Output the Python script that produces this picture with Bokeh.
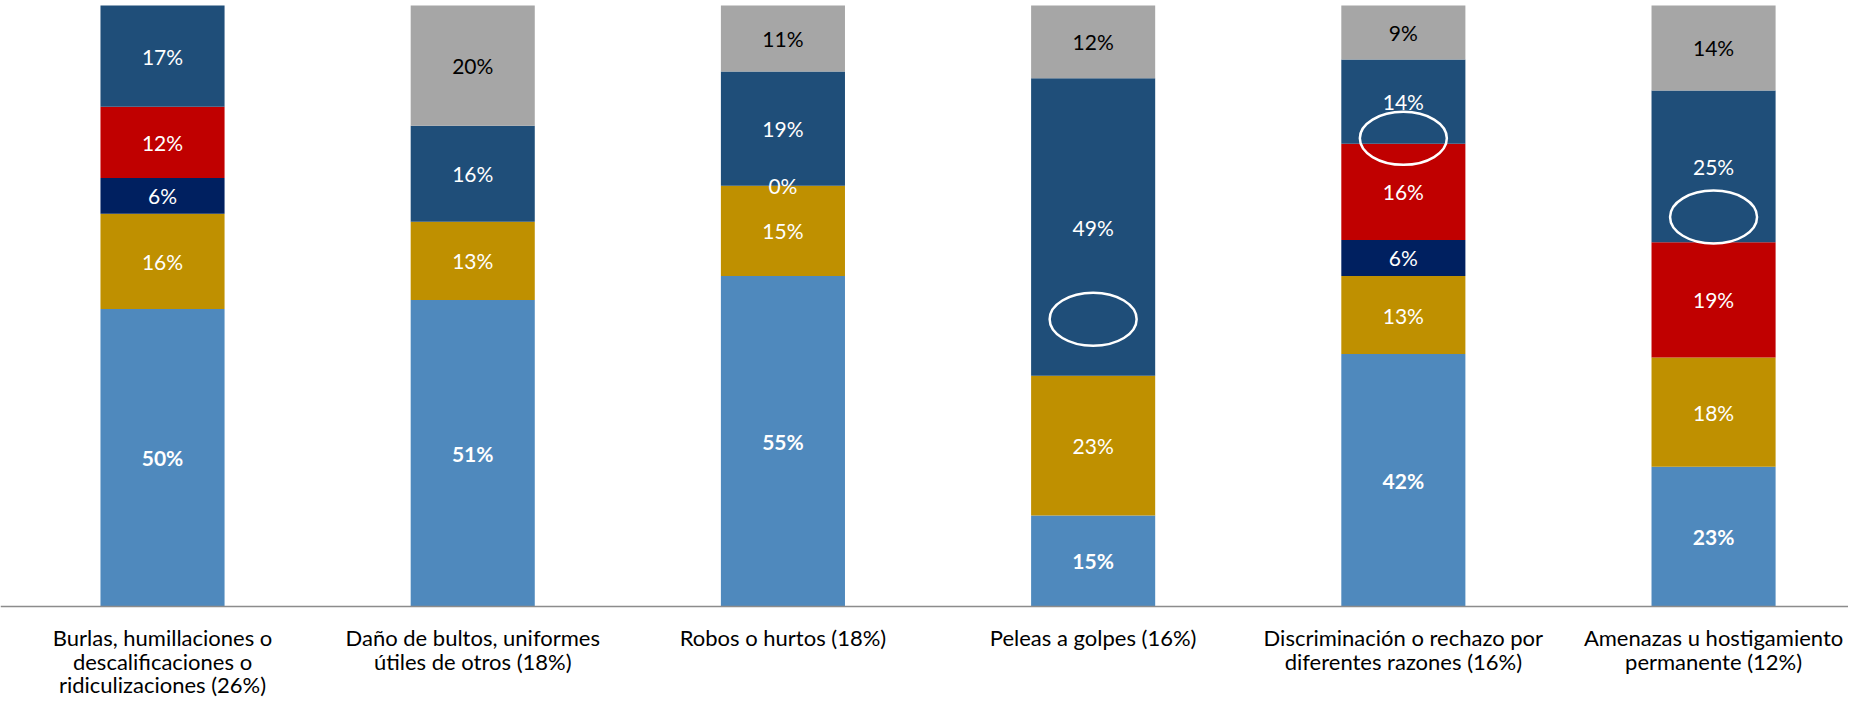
from bokeh.plotting import figure
from bokeh.models import ColumnDataSource, Range1d, Span
from bokeh.core.properties import value
from bokeh.embed import file_html
from bokeh.resources import INLINE

# ---------------- data ----------------
categories = [
    "Burlas, humillaciones o\ndescalificaciones o\nridiculizaciones (26%)",
    "Daño de bultos, uniformes\nútiles de otros (18%)",
    "Robos o hurtos (18%)",
    "Peleas a golpes (16%)",
    "Discriminación o rechazo por\ndiferentes razones (16%)",
    "Amenazas u hostigamiento\npermanente (12%)",
]
serie_1 = [50, 51, 55, 15, 42, 23]          # azul claro
serie_2 = [16, 13, 15, 23, 13, 18]          # dorado
serie_3 = [6, None, 0, None, 6, None]       # azul marino
serie_4 = [12, None, None, None, 16, 19]    # rojo
serie_5 = [17, 16, 19, 49, 14, 25]          # azul oscuro
serie_6 = [None, 20, 11, 12, 9, 14]         # gris

series = [serie_1, serie_2, serie_3, serie_4, serie_5, serie_6]
keys = ["s1", "s2", "s3", "s4", "s5", "s6"]
colors = ["#4F89BD", "#BF9000", "#002060", "#C00000", "#1F4E79", "#A6A6A6"]
label_colors = ["white", "white", "white", "white", "white", "black"]
label_bold = [True, False, False, False, False, False]

# annotation ellipses (category index, fraction of bar height)
ellipse_cat = [3, 4, 5]
ellipse_y = [0.478, 0.779, 0.648]

# ---------------- layout ----------------
W, H = 1848, 701
PX = 601.0                       # pixels per 100 %
TOP_PX = 5                       # gap above the bars
AXIS_PX = TOP_PX + PX            # y of the baseline inside the figure
y_end = 1 + TOP_PX / PX
y_start = -(H - AXIS_PX) / PX

# ---------------- build ----------------
n = len(categories)
xs = [i + 0.5 for i in range(n)]
totals = [sum(s[i] or 0 for s in series) for i in range(n)]
data = {"x": xs}
for k, s in zip(keys, series):
    data[k] = [(v or 0) / t for v, t in zip(s, totals)]
source = ColumnDataSource(data)

p = figure(
    x_range=Range1d(-0.0223, 5.935),
    y_range=Range1d(y_start, y_end),
    width=W, height=H,
    output_backend="svg", toolbar_location=None,
    x_axis_location=None, y_axis_location=None,
    min_border_left=0, min_border_right=0, min_border_top=0, min_border_bottom=0,
)
p.vbar_stack(keys, x="x", width=0.4, color=colors, line_color=None, source=source)

# data labels
lab = {True: {"x": [], "y": [], "t": [], "c": []}, False: {"x": [], "y": [], "t": [], "c": []}}
for i in range(n):
    base = 0.0
    for j, s in enumerate(series):
        v = s[i]
        if v is None:
            continue
        h = v / totals[i]
        d = lab[label_bold[j]]
        d["x"].append(xs[i])
        d["y"].append(base + h / 2)
        d["t"].append(f"{v}%")
        d["c"].append(label_colors[j])
        base += h

for bold, d in lab.items():
    p.text(x=d["x"], y=d["y"], text=d["t"], text_color=d["c"],
           text_align="center", text_baseline="middle",
           text_font=value("Lato"), text_font_size="21px",
           text_font_style="bold" if bold else "normal")

# category labels (drawn below the baseline)
cx, cy, ct = [], [], []
for i, cat in enumerate(categories):
    for k, line in enumerate(cat.split("\n")):
        cx.append(xs[i])
        cy.append(-(31 + 23.5 * k) / PX)
        ct.append(line)
p.text(x=cx, y=cy, text=ct, text_color="black",
       text_align="center", text_baseline="middle",
       text_font=value("Lato"), text_font_size="22px")

# baseline
p.add_layout(Span(location=0, dimension="width", line_color="#8C8C8C", line_width=1.5))

p.ellipse(x=[xs[i] for i in ellipse_cat], y=ellipse_y,
          width=87, height=53, width_units="screen", height_units="screen",
          fill_color=None, line_color="white", line_width=2.5)

p.xgrid.visible = False
p.ygrid.visible = False
p.outline_line_color = None

open("out.html", "w").write(file_html(p, INLINE))
